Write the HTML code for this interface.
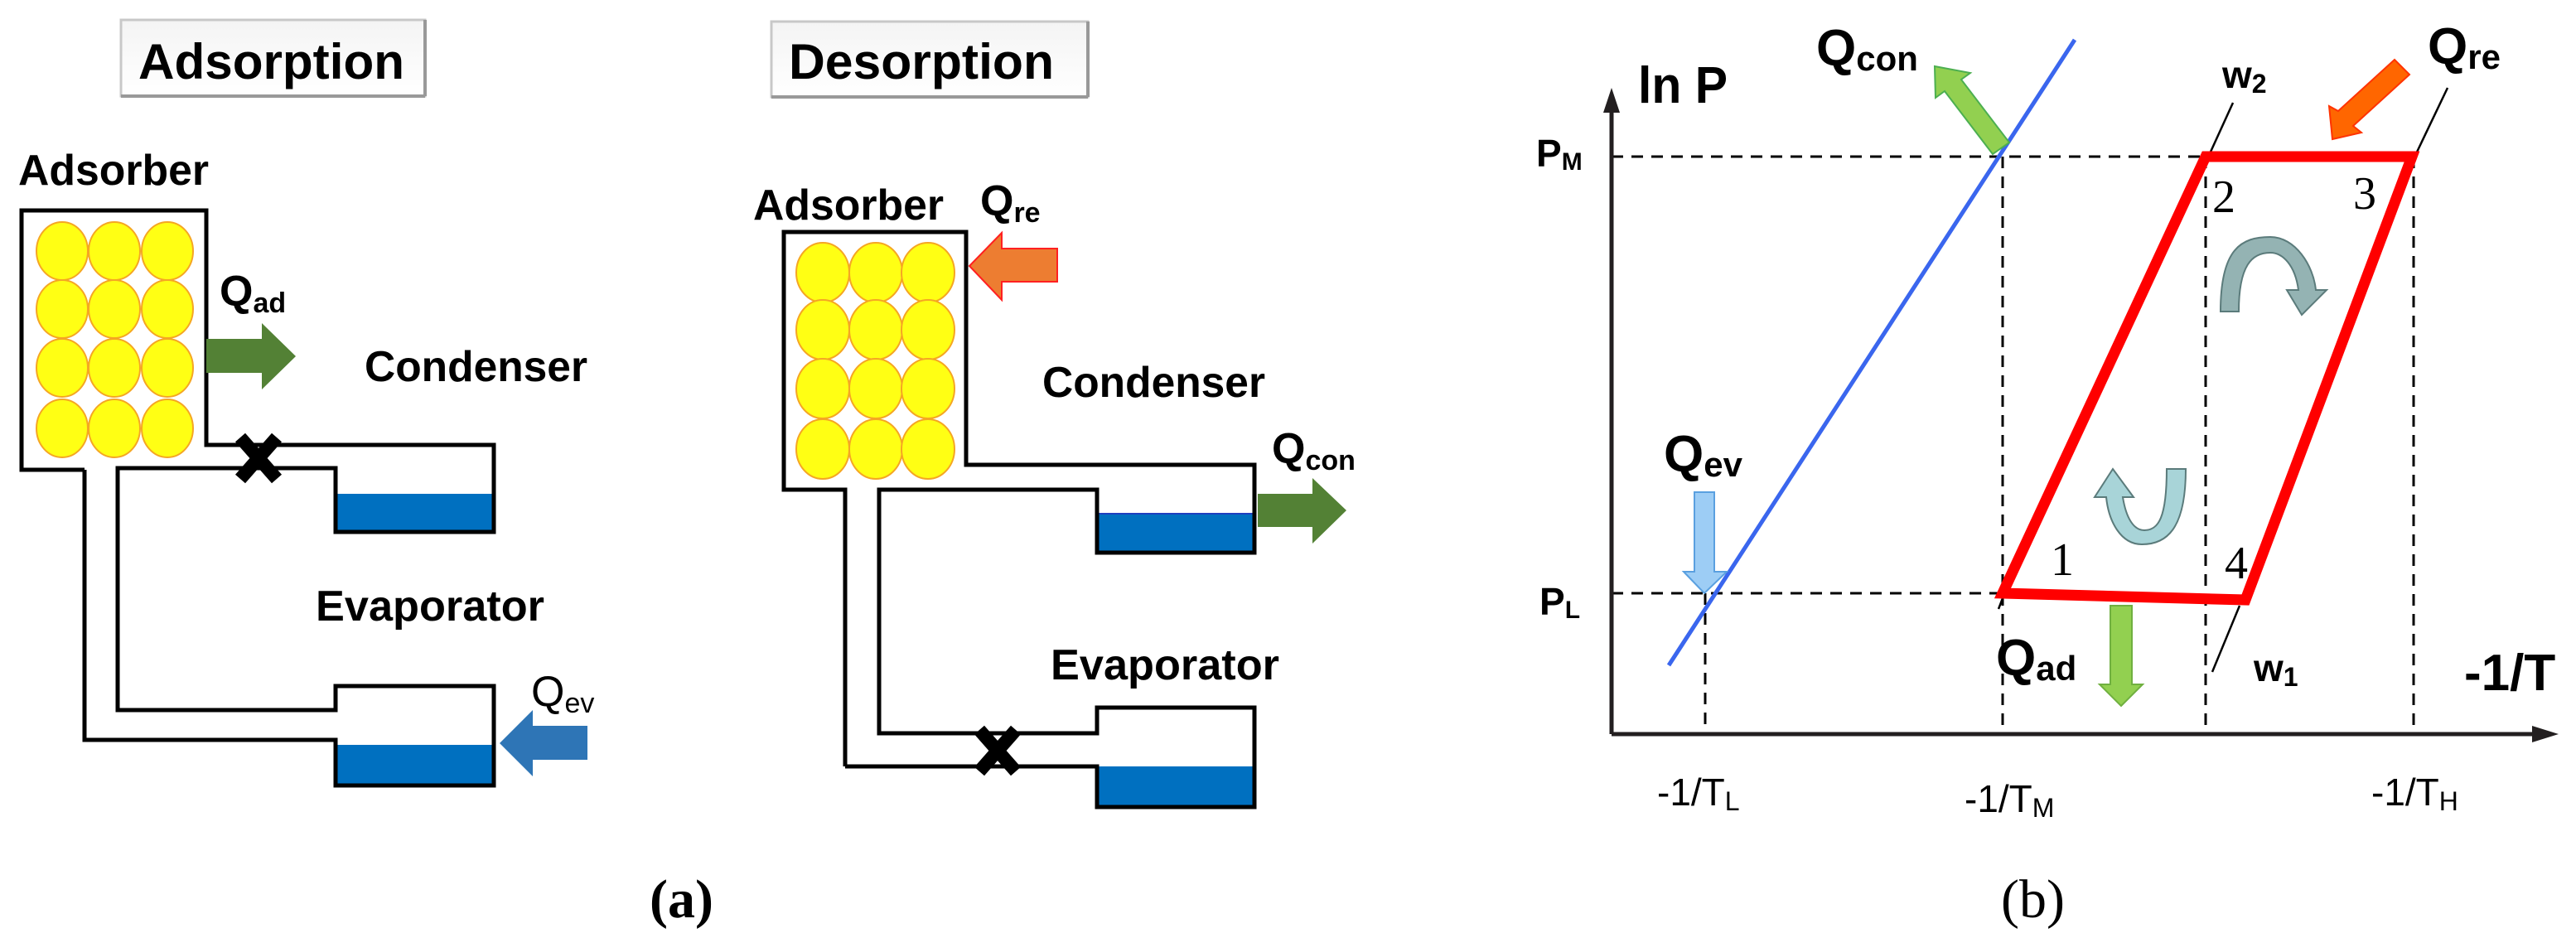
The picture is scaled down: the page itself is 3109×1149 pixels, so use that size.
<!DOCTYPE html>
<html><head><meta charset="utf-8"><style>
html,body{margin:0;padding:0;background:#fff}
svg{display:block}
.b{font-family:"Liberation Sans",Arial,sans-serif;font-weight:bold}
.n{font-family:"Liberation Sans Narrow","Liberation Sans",sans-serif;font-weight:bold}
.s{font-family:"Liberation Serif",serif}
</style></head><body>
<svg width="3109" height="1149" viewBox="0 0 3109 1149" xmlns="http://www.w3.org/2000/svg">
<defs>
<linearGradient id="btn" x1="0" y1="0" x2="0" y2="1"><stop offset="0" stop-color="#f4f4f4"/><stop offset="1" stop-color="#ffffff"/></linearGradient>
</defs>
<!-- ===== (a) Adsorption ===== -->
<rect x="146" y="24" width="367" height="92" fill="url(#btn)" stroke="#c8c8c8" stroke-width="3"/>
<line x1="146" y1="116" x2="513" y2="116" stroke="#999" stroke-width="4"/>
<line x1="513" y1="24" x2="513" y2="116" stroke="#999" stroke-width="4"/>
<text class="b" x="167" y="95" font-size="60" textLength="321" lengthAdjust="spacingAndGlyphs">Adsorption</text>
<text class="b" x="22" y="223" font-size="52" textLength="230" lengthAdjust="spacingAndGlyphs">Adsorber</text>
<g fill="#ffff14" stroke="#f5a623" stroke-width="2">
<ellipse cx="75" cy="303" rx="31" ry="35"/><ellipse cx="138" cy="303" rx="31" ry="35"/><ellipse cx="202" cy="303" rx="31" ry="35"/>
<ellipse cx="75" cy="373" rx="31" ry="35"/><ellipse cx="138" cy="373" rx="31" ry="35"/><ellipse cx="202" cy="373" rx="31" ry="35"/>
<ellipse cx="75" cy="444" rx="31" ry="35"/><ellipse cx="138" cy="444" rx="31" ry="35"/><ellipse cx="202" cy="444" rx="31" ry="35"/>
<ellipse cx="75" cy="517" rx="31" ry="35"/><ellipse cx="138" cy="517" rx="31" ry="35"/><ellipse cx="202" cy="517" rx="31" ry="35"/>
</g>
<rect x="405" y="596" width="191" height="46" fill="#0070c0"/>
<rect x="405" y="899" width="191" height="49" fill="#0070c0"/>
<g fill="none" stroke="#000" stroke-width="5">
<polyline points="102,567 26,567 26,254 249,254 249,537 596,537 596,642 405,642 405,565 142,565 142,857 405,857 405,828 596,828 596,948 405,948 405,893 102,893 102,567"/>
</g>
<g stroke="#000" stroke-width="16" stroke-linecap="butt">
<line x1="290" y1="528" x2="334" y2="578"/><line x1="334" y1="528" x2="290" y2="578"/>
</g>
<text class="b" x="265" y="369" font-size="52">Q<tspan font-size="34" dy="8">ad</tspan></text>
<polygon points="249,409 316,409 316,390 357,430 316,470 316,450 249,450" fill="#538135"/>
<text class="b" x="440" y="460" font-size="52" textLength="269" lengthAdjust="spacingAndGlyphs">Condenser</text>
<text class="b" x="381" y="749" font-size="52" textLength="276" lengthAdjust="spacingAndGlyphs">Evaporator</text>
<text x="641" y="852" font-size="52" font-family="Liberation Sans, sans-serif">Q<tspan font-size="34" dy="8">ev</tspan></text>
<polygon points="709,876 643,876 643,857 603,897 643,937 643,917 709,917" fill="#2e75b6"/>
<text class="s" x="784" y="1107" font-size="66" font-weight="bold">(a)</text>

<!-- ===== (a) Desorption ===== -->
<rect x="931" y="26" width="382" height="91" fill="url(#btn)" stroke="#c8c8c8" stroke-width="3"/>
<line x1="931" y1="117" x2="1313" y2="117" stroke="#999" stroke-width="4"/>
<line x1="1313" y1="26" x2="1313" y2="117" stroke="#999" stroke-width="4"/>
<text class="b" x="952" y="95" font-size="60" textLength="320" lengthAdjust="spacingAndGlyphs">Desorption</text>
<text class="b" x="909" y="265" font-size="52" textLength="230" lengthAdjust="spacingAndGlyphs">Adsorber</text>
<text class="b" x="1183" y="260" font-size="52">Q<tspan font-size="34" dy="8">re</tspan></text>
<g fill="#ffff14" stroke="#f5a623" stroke-width="2">
<ellipse cx="993" cy="329" rx="32" ry="36"/><ellipse cx="1057" cy="329" rx="32" ry="36"/><ellipse cx="1120" cy="329" rx="32" ry="36"/>
<ellipse cx="993" cy="398" rx="32" ry="36"/><ellipse cx="1057" cy="398" rx="32" ry="36"/><ellipse cx="1120" cy="398" rx="32" ry="36"/>
<ellipse cx="993" cy="469" rx="32" ry="36"/><ellipse cx="1057" cy="469" rx="32" ry="36"/><ellipse cx="1120" cy="469" rx="32" ry="36"/>
<ellipse cx="993" cy="542" rx="32" ry="36"/><ellipse cx="1057" cy="542" rx="32" ry="36"/><ellipse cx="1120" cy="542" rx="32" ry="36"/>
</g>
<polygon points="1276,300 1209,300 1209,281 1170,321 1209,362 1209,340 1276,340" fill="#ed7d31" stroke="#ff2020" stroke-width="2"/>
<rect x="1324" y="620" width="190" height="47" fill="#0070c0" stroke="#1f3fbf" stroke-width="2"/>
<rect x="1324" y="925" width="190" height="49" fill="#0070c0"/>
<g fill="none" stroke="#000" stroke-width="5">
<polyline points="1020,925 1020,591 946,591 946,280 1166,280 1166,561 1514,561 1514,667 1324,667 1324,591 1061,591 1061,885 1324,885 1324,854 1514,854 1514,974 1324,974 1324,925 1020,925"/>
</g>
<g stroke="#000" stroke-width="16">
<line x1="1182" y1="881" x2="1226" y2="931"/><line x1="1226" y1="881" x2="1182" y2="931"/>
</g>
<text class="b" x="1258" y="479" font-size="52" textLength="269" lengthAdjust="spacingAndGlyphs">Condenser</text>
<text class="b" x="1535" y="559" font-size="52">Q<tspan font-size="34" dy="8">con</tspan></text>
<polygon points="1518,596 1584,596 1584,577 1625,616 1584,656 1584,636 1518,636" fill="#538135"/>
<text class="b" x="1268" y="820" font-size="52" textLength="276" lengthAdjust="spacingAndGlyphs">Evaporator</text>

<!-- ===== (b) graph ===== -->
<g stroke="#000" stroke-width="3" stroke-dasharray="14,10" fill="none">
<line x1="1945" y1="189" x2="2911" y2="189"/>
<line x1="1945" y1="716" x2="2417" y2="716"/>
<line x1="2058" y1="716" x2="2058" y2="886"/>
<line x1="2417" y1="189" x2="2417" y2="886"/>
<line x1="2662" y1="189" x2="2662" y2="886"/>
<line x1="2913" y1="189" x2="2913" y2="886"/>
</g>
<g stroke="#231f20" stroke-width="5" fill="none">
<line x1="1945" y1="886" x2="1945" y2="125"/>
<line x1="1945" y1="886" x2="3070" y2="886"/>
</g>
<polygon points="1945,106 1935,136 1955,136" fill="#231f20"/>
<polygon points="3088,886 3056,876 3056,896" fill="#231f20"/>
<g stroke="#000" stroke-width="2.5" fill="none">
<line x1="2695" y1="124" x2="2664" y2="192"/>
<line x1="2703" y1="731" x2="2670" y2="811"/>
<line x1="2954" y1="106" x2="2911" y2="196"/>
<line x1="2417" y1="722" x2="2412" y2="735"/>
</g>
<line x1="2014" y1="803" x2="2504" y2="48" stroke="#3a66ee" stroke-width="5"/>
<polygon points="2417,716 2662,189 2911,189 2710,724" fill="none" stroke="#ff0000" stroke-width="13" stroke-linejoin="miter"/>
<!-- heat arrows -->
<polygon points="2335,80 2378,88 2367,96 2425,172 2405,186 2347,110 2336,118" fill="#92d050" stroke="#4caf50" stroke-width="2"/>
<polygon points="2815,168 2811,128 2822,134 2890,72 2908,90 2840,152 2850,160" fill="#ff6600" stroke="#ff3300" stroke-width="2"/>
<polygon points="2045,594 2069,594 2069,690 2084,690 2057,716 2032,690 2045,690" fill="#9dcdf5" stroke="#5aa0e0" stroke-width="2"/>
<polygon points="2547,731 2573,731 2573,826 2586,826 2560,852 2534,826 2547,826" fill="#92d050" stroke="#70b040" stroke-width="2"/>
<!-- curved cycle arrows -->
<path d="M2680,376 C2680,300 2705,286 2740,286 C2770,286 2792,320 2795,350 L2808,350 L2778,380 L2760,350 L2774,350 C2770,320 2755,305 2740,305 C2718,305 2702,320 2702,376 Z" fill="#94b3b3" stroke="#5b7b7b" stroke-width="2"/>
<path d="M2638,566 C2638,640 2614,657 2585,657 C2560,657 2545,630 2542,600 L2528,600 L2550,566 L2575,600 L2562,600 C2566,625 2575,640 2588,640 C2605,640 2615,625 2615,566 Z" fill="#a8d4d8" stroke="#5b7b7b" stroke-width="2"/>
<!-- labels -->
<text class="n" x="1977" y="124" font-size="62" textLength="108" lengthAdjust="spacingAndGlyphs">ln P</text>
<text class="n" x="2192" y="79" font-size="62">Q<tspan font-size="42" dy="6">con</tspan></text>
<text class="n" x="2930" y="77" font-size="62">Q<tspan font-size="42" dy="6">re</tspan></text>
<text class="n" x="2008" y="569" font-size="62">Q<tspan font-size="42" dy="6">ev</tspan></text>
<text class="n" x="2409" y="815" font-size="62">Q<tspan font-size="42" dy="6">ad</tspan></text>
<text class="n" x="2682" y="106" font-size="46">w<tspan font-size="32" dy="6">2</tspan></text>
<text class="n" x="2720" y="822" font-size="46">w<tspan font-size="32" dy="6">1</tspan></text>
<text class="n" x="2974" y="833" font-size="62">-1/T</text>
<text class="n" x="1854" y="201" font-size="46" font-weight="normal">P<tspan font-size="30" dy="4">M</tspan></text>
<text class="n" x="1858" y="742" font-size="46" font-weight="normal">P<tspan font-size="30" dy="4">L</tspan></text>
<text x="2000" y="972" font-size="46" font-family="Liberation Sans Narrow, Liberation Sans, sans-serif">-1/T<tspan font-size="32" dy="6">L</tspan></text>
<text x="2371" y="980" font-size="46" font-family="Liberation Sans Narrow, Liberation Sans, sans-serif">-1/T<tspan font-size="32" dy="6">M</tspan></text>
<text x="2862" y="972" font-size="46" font-family="Liberation Sans Narrow, Liberation Sans, sans-serif">-1/T<tspan font-size="32" dy="6">H</tspan></text>
<text class="s" x="2670" y="256" font-size="56">2</text>
<text class="s" x="2840" y="252" font-size="56">3</text>
<text class="s" x="2475" y="694" font-size="56">1</text>
<text class="s" x="2685" y="698" font-size="56">4</text>
<text class="s" x="2415" y="1107" font-size="66">(b)</text>
</svg>
</body></html>
